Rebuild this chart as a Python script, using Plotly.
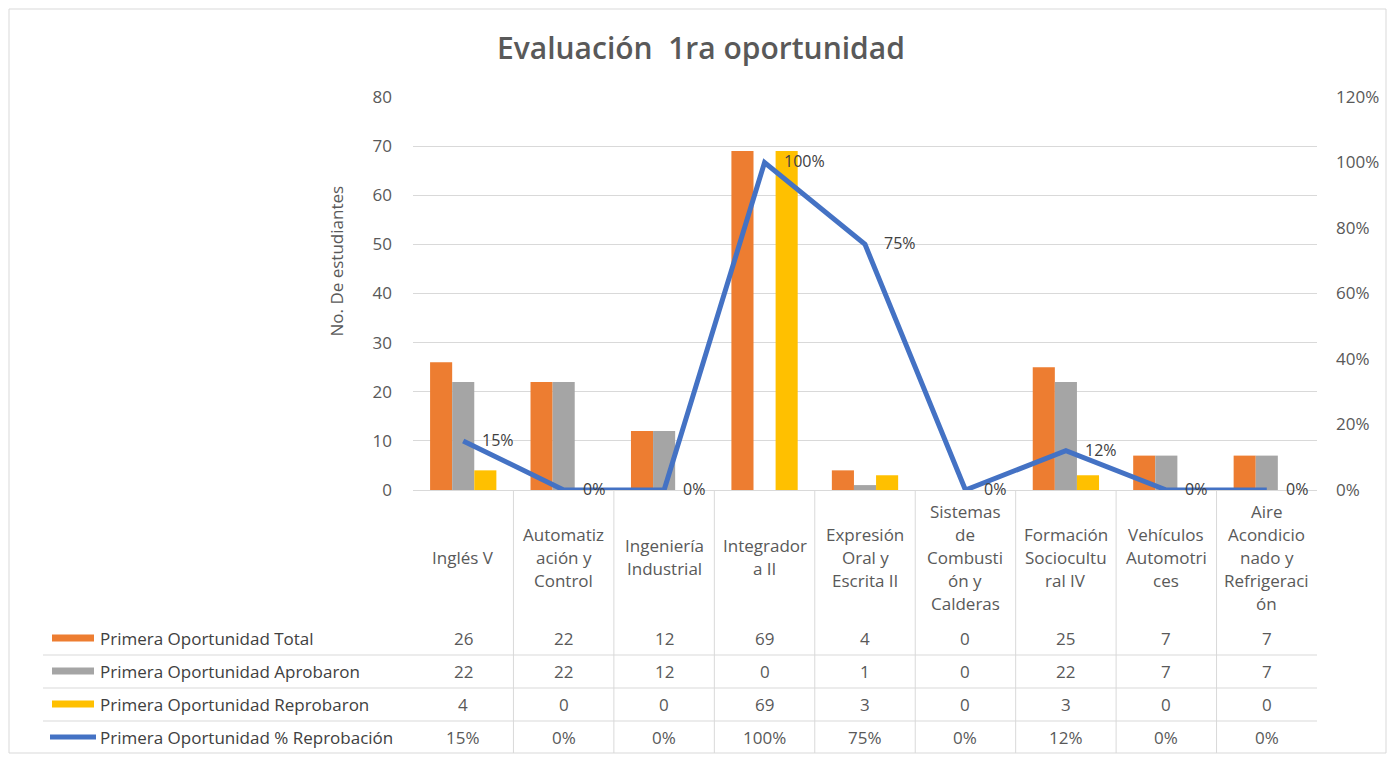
import plotly.graph_objects as go

# data
categorias = ["Inglés V", "Automatización y Control", "Ingeniería Industrial", "Integradora II",
              "Expresión Oral y Escrita II", "Sistemas de Combustión y Calderas",
              "Formación Sociocultural IV", "Vehículos Automotrices",
              "Aire Acondicionado y Refrigeración"]
etiquetas = ["Inglés V", "Automatiz<br>ación y<br>Control", "Ingeniería<br>Industrial",
             "Integrador<br>a II", "Expresión<br>Oral y<br>Escrita II",
             "Sistemas<br>de<br>Combusti<br>ón y<br>Calderas", "Formación<br>Sociocultu<br>ral IV",
             "Vehículos<br>Automotri<br>ces", "Aire<br>Acondicio<br>nado y<br>Refrigeraci<br>ón"]
total = [26, 22, 12, 69, 4, 0, 25, 7, 7]
aprobaron = [22, 22, 12, 0, 1, 0, 22, 7, 7]
reprobaron = [4, 0, 0, 69, 3, 0, 3, 0, 0]
pct_reprob = [0.15, 0, 0, 1.0, 0.75, 0, 0.12, 0, 0]

series = ["Primera Oportunidad Total", "Primera Oportunidad Aprobaron",
          "Primera Oportunidad Reprobaron", "Primera Oportunidad % Reprobación"]
colores = ["#ED7D31", "#A5A5A5", "#FFC000", "#4472C4"]

# the page body has an 8px margin, so the figure is drawn 16px smaller
# and all positions below are given in page pixels
OFF = 8
W, H = 1395 - 2 * OFF, 762 - 2 * OFF
FONT = "Open Sans"
FS = 17
GRIS = "#595959"
TXT = "#404040"
LINEA = "#D9D9D9"


def px(x):
    return (x - OFF) / W


def py(y):
    return 1 - (y - OFF) / H


fig = go.Figure()
for nombre, vals, c in zip(series[:3], [total, aprobaron, reprobaron], colores[:3]):
    fig.add_trace(go.Bar(x=categorias, y=vals, name=nombre, marker=dict(color=c, line=dict(width=0))))

fig.add_trace(go.Scatter(x=categorias, y=pct_reprob, name=series[3], yaxis="y2",
                         mode="lines", line=dict(color=colores[3], width=5)))

annotations = []
shapes = []

# line data labels (right of each point)
for cat, v in zip(categorias, pct_reprob):
    annotations.append(dict(text=f"{v:.0%}", x=cat, y=v, xref="x", yref="y2",
                            xanchor="left", yanchor="middle", xshift=17, yshift=1,
                            showarrow=False, font=dict(family=FONT, size=FS - 1, color=TXT)))

# title and axis title
annotations.append(dict(text="Evaluación&nbsp;&nbsp;1ra oportunidad", x=px(701), y=py(47),
                        xref="paper", yref="paper", showarrow=False, yanchor="middle",
                        font=dict(family=FONT, size=30, color=GRIS, weight=600)))
annotations.append(dict(text="No. De estudiantes", x=px(322), y=py(261), xref="paper",
                        yref="paper", showarrow=False, textangle=-90, yanchor="middle",
                        font=dict(family=FONT, size=FS, color=GRIS)))

# category labels, one annotation per line to mimic Excel line spacing
for cat, lab in zip(categorias, etiquetas):
    lineas = lab.split("<br>")
    n = len(lineas)
    for k, ln in enumerate(lineas):
        yc = 557 + (k - (n - 1) / 2) * 23
        annotations.append(dict(text=ln, x=cat, y=py(yc), xref="x", yref="paper",
                                showarrow=False, yanchor="middle",
                                font=dict(family=FONT, size=FS, color=GRIS)))

# data table
filas_y = [638, 671, 704, 737]
valores = [total, aprobaron, reprobaron, [f"{v:.0%}" for v in pct_reprob]]
for i, (nombre, vals, yy) in enumerate(zip(series, valores, filas_y)):
    annotations.append(dict(text=nombre, x=px(98), y=py(yy), xref="paper", yref="paper",
                            xanchor="left", yanchor="middle", showarrow=False,
                            font=dict(family=FONT, size=FS, color=TXT)))
    for cat, v in zip(categorias, vals):
        annotations.append(dict(text=str(v), x=cat, y=py(yy), xref="x", yref="paper",
                                showarrow=False, yanchor="middle",
                                font=dict(family=FONT, size=FS, color=GRIS)))
    if i < 3:
        shapes.append(dict(type="rect", xref="paper", yref="paper", x0=px(52), x1=px(94),
                           y0=py(yy - 3.5), y1=py(yy + 3.5), fillcolor=colores[i], line=dict(width=0)))
    else:
        shapes.append(dict(type="line", xref="paper", yref="paper", x0=px(50), x1=px(96),
                           y0=py(yy), y1=py(yy), line=dict(color=colores[i], width=5)))

for yy in [655, 688, 721]:
    shapes.append(dict(type="line", xref="paper", yref="paper", x0=px(43), x1=px(1317),
                       y0=py(yy), y1=py(yy), line=dict(color=LINEA, width=1)))
for i in range(len(categorias) - 1):
    shapes.append(dict(type="line", xref="x", yref="paper", x0=i + 0.5, x1=i + 0.5,
                       y0=py(490), y1=py(753), line=dict(color=LINEA, width=1)))

# outer chart border
shapes.append(dict(type="rect", xref="paper", yref="paper", x0=px(9), x1=px(1386),
                   y0=py(9), y1=py(753), line=dict(color=LINEA, width=1)))

fig.update_layout(
    width=W, height=H,
    margin=dict(l=0, r=0, t=0, b=0, autoexpand=False),
    paper_bgcolor="white", plot_bgcolor="white",
    showlegend=False,
    barmode="group", bargap=0.34, bargroupgap=0,
    font=dict(family=FONT, size=FS, color=GRIS),
    xaxis=dict(domain=[px(413), px(1317)], showticklabels=False, showgrid=False,
               showline=True, linecolor=LINEA, ticks="", zeroline=False),
    yaxis=dict(domain=[py(490), py(97)], range=[0, 80], dtick=10, showgrid=True,
               gridcolor=LINEA, zeroline=False, ticks="", ticklabelstandoff=20,
               tickfont=dict(family=FONT, size=FS, color=GRIS)),
    yaxis2=dict(overlaying="y", side="right", range=[0, 1.2], dtick=0.2, tickformat=".0%",
                showgrid=False, zeroline=False, ticks="", ticklabelstandoff=18,
                tickfont=dict(family=FONT, size=FS, color=GRIS)),
    annotations=annotations, shapes=shapes,
)

fig.write_html("out.html")
